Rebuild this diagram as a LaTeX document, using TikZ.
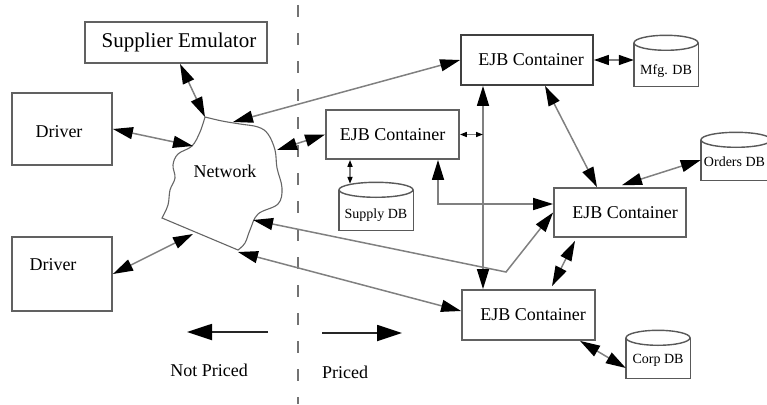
\documentclass[tikz,border=0pt]{standalone}
\usepackage{fontspec}
\setmainfont{Liberation Serif}
\usetikzlibrary{arrows.meta,calc}

\tikzset{
  box/.style={draw=black!62, line width=1.8pt, fill=white, inner sep=0pt,
              font=\fontsize{18}{20}\selectfont},
  label18/.style={inner sep=0pt, font=\fontsize{18}{20}\selectfont},
  label14/.style={inner sep=0pt, font=\fontsize{14}{16}\selectfont},
  dbbody/.style={inner sep=0pt},
  dbline/.style={draw=black!65, line width=1.4pt},
  cloudline/.style={draw=black!60, line width=1.1pt},
  link/.style={draw=black!50, line width=1.5pt},
  bi/.style={link, {Triangle[length=20pt,width=12pt,color=black]}-{Triangle[length=20pt,width=12pt,color=black]}},
  bimid/.style={link, {Triangle[length=15pt,width=10pt,color=black]}-{Triangle[length=15pt,width=10pt,color=black]}},
  bismall/.style={link, {Triangle[length=7pt,width=5pt,color=black]}-{Triangle[length=7pt,width=5pt,color=black]}},
  bigarrow/.style={draw=black!85, line width=1.8pt, -{Triangle[length=25pt,width=16pt,color=black]}},
  divider/.style={draw=black!55, line width=1.5pt, dash pattern=on 12pt off 16pt},
}

\begin{document}
\begin{tikzpicture}[x=1pt, y=-1pt]
\useasboundingbox (0,0) rectangle (767,404);

% price boundary
\coordinate (sepTop) at (298,5);
\coordinate (sepBot) at (298,404);
\draw[divider] (sepTop) -- (sepBot);

% client side
\node[box, minimum width=182pt, minimum height=41pt, font=\fontsize{21}{23}\selectfont]
  (sup) at (176,42.5) {\hspace*{6pt}Supplier Emulator};
\node[box, minimum width=100pt, minimum height=72pt] (drv1) at (62,129) {};
\node[label18] (drv1t) at (59,132) {Driver};
\node[box, minimum width=100pt, minimum height=74pt] (drv2) at (62,274) {};
\node[label18] (drv2t) at (53,265) {Driver};

% network cloud: wavy outline closed by a straight lower edge
\draw[cloudline]
  plot[smooth, tension=0.6] coordinates {(162,218) (168,205) (170,190) (175,178)
     (173,165) (178,154) (192,146) (200,132) (205,117)}
  -- plot[smooth, tension=0.6] coordinates {(205,117) (222,121) (240,124) (258,127)
     (268,134) (275,150) (277,168) (282,188) (278,204) (258,214) (250,230)
     (245,243) (238,250)}
  -- cycle;
\node[label18] (net) at (225,171) {Network};
\coordinate (n1) at (205,117);
\coordinate (n2) at (193,146);
\coordinate (n3) at (233,122);
\coordinate (n4) at (277,150);
\coordinate (n5) at (193,234);
\coordinate (n6) at (253,220);
\coordinate (n7) at (238,252);

% server side containers
\node[box, minimum width=132pt, minimum height=50pt, draw=black!75] (ejb1) at (527,60) {\hspace*{8pt}EJB Container};
\node[box, minimum width=133pt, minimum height=49pt] (ejb2) at (392.5,134.5) {EJB Container};
\node[box, minimum width=132pt, minimum height=49pt] (ejb3) at (620,212.5) {\hspace*{10pt}EJB Container};
\node[box, minimum width=133pt, minimum height=50pt] (ejb4) at (528.5,315) {\hspace*{9pt}EJB Container};

% databases
\node[dbbody, minimum width=64pt, minimum height=43pt] (mfg) at (666,64.5) {};
\node[dbbody, minimum width=70pt, minimum height=40pt] (orders) at (736,160) {};
\node[dbbody, minimum width=74pt, minimum height=40pt] (supply) at (376,210) {};
\node[dbbody, minimum width=64pt, minimum height=40pt] (corp) at (658,358) {};
\foreach \db/\rx in {mfg/32, orders/35, supply/37, corp/32}{
  \draw[dbline, fill=white] (\db.north west) -- (\db.south west) -- (\db.south east) -- (\db.north east);
  \draw[dbline, fill=white] (\db.north) ellipse [x radius=\rx pt, y radius=7.5pt];
}
\node[label14] (mfgt) at (666,71) {Mfg. DB};
\node[label14] (orderst) at (734.5,162) {Orders DB};
\node[label14] (supplyt) at (376,215) {Supply DB};
\node[label14] (corpt) at (658,360) {Corp DB};

% helper points for routed links
\coordinate (bus) at (483,0);
\coordinate (elb) at (438,204);
\coordinate (kink) at (506,272);

% client connections
\draw[bi] ($(sup.south)+(4,0)$) -- (n1);
\draw[bi] (drv1.east) -- (n2);
\draw[bi] (drv2.east) -- (n5);
\draw[bi] (ejb1.west) -- (n3);
\draw[bi] (ejb2.west) -- (n4);
\draw[bi] (n6) -- (kink) -- (ejb3.west);
\draw[bi] (n7) -- ($(ejb4.west)+(0,-4)$);

% server connections
\draw[bi] (ejb1.south -| bus) -- (ejb4.north -| bus);
\draw[bismall] (ejb2.east) -- (ejb2.east -| bus);
\draw[bismall] ($(ejb2.south)+(-42.5,0)$) -- ($(supply.north)+(-26,-6)$);
\draw[bi] (ejb2.south -| elb) -- (elb) -- (ejb3.west |- elb);
\draw[bi] ($(ejb1.south)+(18,0)$) -- ($(ejb3.north)+(-23,0)$);
\draw[bimid] (ejb1.east) -- (mfg.west |- ejb1.east);
\draw[bi] ($(ejb3.north)+(2,-2)$) -- (orders.west);
\draw[bi] ($(ejb3.south)+(-45,3)$) -- ($(ejb4.north)+(23.5,-3)$);
\draw[bi] ($(ejb4.south)+(51.5,0)$) -- ($(corp.west)+(0,10)$);

% legend
\coordinate (np0) at (268,332);
\coordinate (np1) at (187,332);
\coordinate (pr0) at (322,333);
\coordinate (pr1) at (402,333);
\draw[bigarrow] (np0) -- (np1);
\draw[bigarrow] (pr0) -- (pr1);
\node[label18] (nptext) at (209,370) {Not Priced};
\node[label18] (prtext) at (345,372) {Priced};
\end{tikzpicture}
\end{document}
